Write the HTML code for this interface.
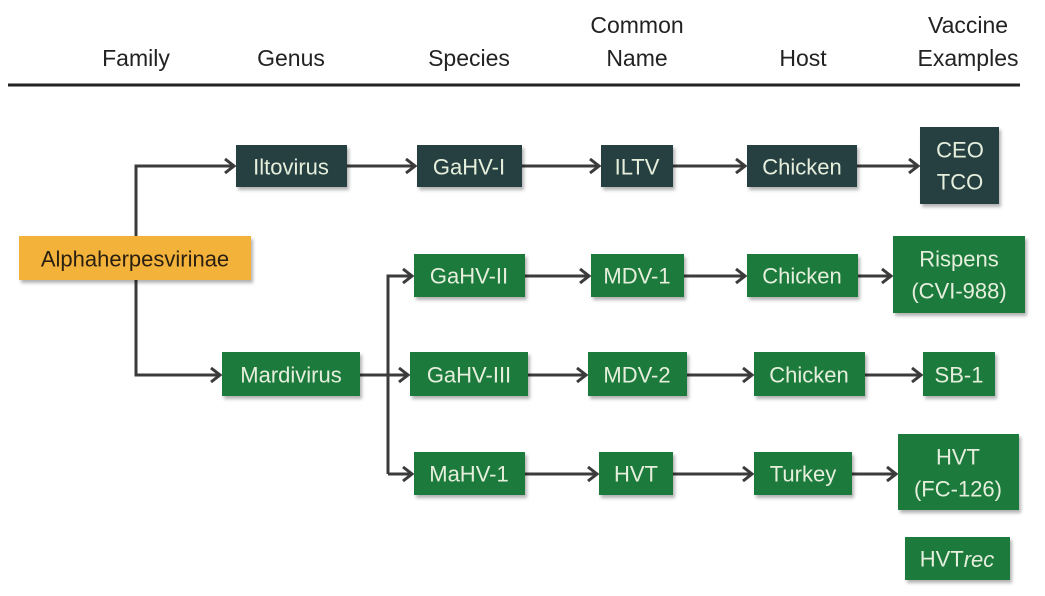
<!DOCTYPE html>
<html><head><meta charset="utf-8"><style>
html,body{margin:0;padding:0;background:#fff;}
svg{display:block;}
text{font-family:"Liberation Sans",sans-serif;}
.h{font-size:23px;fill:#222;text-anchor:middle;}
.t{font-size:22px;fill:#e6efdc;text-anchor:middle;dominant-baseline:central;}
.d{fill:#263f43;}
.g{fill:#1f7a3d;}
.l{stroke:#3b3b3b;stroke-width:3;fill:none;}
</style></head><body>
<svg width="1045" height="596" viewBox="0 0 1045 596">
<defs>
<marker id="a" markerWidth="12" markerHeight="16" refX="10" refY="8" orient="auto" markerUnits="userSpaceOnUse">
<polyline points="1,1 10,8 1,15" fill="none" stroke="#3b3b3b" stroke-width="3"/>
</marker>
<filter id="s" x="-10%" y="-10%" width="130%" height="140%"><feDropShadow dx="2" dy="3" stdDeviation="1.5" flood-color="#000" flood-opacity="0.3"/></filter>
</defs>
<text class="h" x="136" y="66">Family</text>
<text class="h" x="291" y="66">Genus</text>
<text class="h" x="469" y="66">Species</text>
<text class="h" x="637" y="33">Common</text>
<text class="h" x="637" y="66">Name</text>
<text class="h" x="803" y="66">Host</text>
<text class="h" x="968" y="33">Vaccine</text>
<text class="h" x="968" y="66">Examples</text>
<line x1="8" y1="85" x2="1020" y2="85" stroke="#222" stroke-width="3"/>

<polyline class="l" points="136,236 136,166 234,166" marker-end="url(#a)"/>
<polyline class="l" points="136,280 136,375 220,375" marker-end="url(#a)"/>
<line class="l" x1="347" y1="166" x2="415" y2="166" marker-end="url(#a)"/>
<line class="l" x1="522" y1="166" x2="599" y2="166" marker-end="url(#a)"/>
<line class="l" x1="673" y1="166" x2="745" y2="166" marker-end="url(#a)"/>
<line class="l" x1="857" y1="166" x2="918" y2="166" marker-end="url(#a)"/>

<line class="l" x1="360" y1="375" x2="408" y2="375" marker-end="url(#a)"/>
<polyline class="l" points="388,474 388,276 412,276" marker-end="url(#a)"/>
<line class="l" x1="388" y1="474" x2="412" y2="474" marker-end="url(#a)"/>

<line class="l" x1="525" y1="276" x2="589" y2="276" marker-end="url(#a)"/>
<line class="l" x1="684" y1="276" x2="745" y2="276" marker-end="url(#a)"/>
<line class="l" x1="858" y1="276" x2="891" y2="276" marker-end="url(#a)"/>

<line class="l" x1="528" y1="375" x2="586" y2="375" marker-end="url(#a)"/>
<line class="l" x1="687" y1="375" x2="752" y2="375" marker-end="url(#a)"/>
<line class="l" x1="865" y1="375" x2="921" y2="375" marker-end="url(#a)"/>

<line class="l" x1="525" y1="474" x2="597" y2="474" marker-end="url(#a)"/>
<line class="l" x1="673" y1="474" x2="752" y2="474" marker-end="url(#a)"/>
<line class="l" x1="852" y1="474" x2="896" y2="474" marker-end="url(#a)"/>

<g filter="url(#s)">
<rect x="19" y="236" width="232" height="44" fill="#f3b33b"/>
<rect class="d" x="236" y="145" width="111" height="42"/>
<rect class="d" x="417" y="145" width="105" height="42"/>
<rect class="d" x="601" y="145" width="72" height="42"/>
<rect class="d" x="747" y="145" width="110" height="42"/>
<rect class="d" x="920" y="127" width="79" height="77"/>

<rect class="g" x="222" y="352" width="138" height="44"/>
<rect class="g" x="414" y="254" width="111" height="43"/>
<rect class="g" x="410" y="352" width="118" height="44"/>
<rect class="g" x="414" y="452" width="111" height="43"/>
<rect class="g" x="591" y="254" width="93" height="43"/>
<rect class="g" x="588" y="352" width="99" height="44"/>
<rect class="g" x="599" y="452" width="74" height="43"/>
<rect class="g" x="747" y="254" width="111" height="43"/>
<rect class="g" x="754" y="352" width="111" height="44"/>
<rect class="g" x="754" y="452" width="98" height="43"/>
<rect class="g" x="893" y="236" width="132" height="77"/>
<rect class="g" x="923" y="352" width="72" height="44"/>
<rect class="g" x="898" y="434" width="121" height="76"/>
<rect class="g" x="905" y="537" width="105" height="43"/>
</g>

<text class="t" x="135" y="259" style="fill:#2a1f10">Alphaherpesvirinae</text>
<text class="t" x="291" y="167">Iltovirus</text>
<text class="t" x="469" y="167">GaHV-I</text>
<text class="t" x="637" y="167">ILTV</text>
<text class="t" x="802" y="167">Chicken</text>
<text class="t" x="960" y="150">CEO</text>
<text class="t" x="960" y="182">TCO</text>

<text class="t" x="291" y="375">Mardivirus</text>
<text class="t" x="469" y="276">GaHV-II</text>
<text class="t" x="469" y="375">GaHV-III</text>
<text class="t" x="469" y="474">MaHV-1</text>
<text class="t" x="637" y="276">MDV-1</text>
<text class="t" x="637" y="375">MDV-2</text>
<text class="t" x="636" y="474">HVT</text>
<text class="t" x="802" y="276">Chicken</text>
<text class="t" x="809" y="375">Chicken</text>
<text class="t" x="803" y="474">Turkey</text>
<text class="t" x="959" y="259">Rispens</text>
<text class="t" x="959" y="291">(CVI-988)</text>
<text class="t" x="959" y="375">SB-1</text>
<text class="t" x="958" y="457">HVT</text>
<text class="t" x="958" y="489">(FC-126)</text>
<text class="t" x="957" y="559">HVT<tspan font-style="italic">rec</tspan></text>
</svg>
</body></html>
